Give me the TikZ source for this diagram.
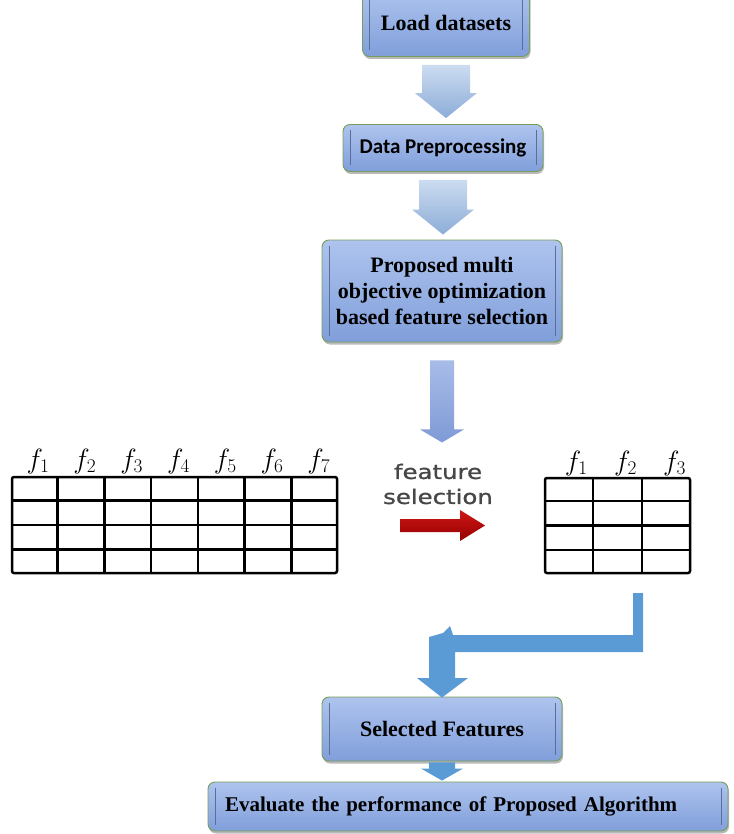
\documentclass[tikz,border=0pt]{standalone}
\usepackage{fontspec}
\setmainfont{Liberation Serif}
\newfontfamily\calibrifont{Carlito}
\newfontfamily\widesans[FakeStretch=1.22,FakeBold=1.2]{DejaVu Sans}
\usetikzlibrary{positioning, calc, shadows}
\definecolor{boxTop}{RGB}{174,196,238}
\definecolor{boxBottom}{RGB}{128,158,218}
\definecolor{boxEdge}{RGB}{118,158,88}
\definecolor{paleTop}{RGB}{204,220,240}
\definecolor{paleBottom}{RGB}{140,172,216}
\definecolor{midTop}{RGB}{168,188,232}
\definecolor{midBottom}{RGB}{126,154,214}
\definecolor{flowBlue}{RGB}{91,155,213}
\definecolor{redTop}{RGB}{206,22,22}
\definecolor{redBottom}{RGB}{150,0,0}

% block arrow pointing down: style, top point, tip point, shaft half width, head half width, head length
\newcommand{\blockdown}[6]{%
  \path[#1] let \p1=(#2), \p2=(#3) in
    (\x1-#4,\y1) -- (\x1+#4,\y1) -- (\x1+#4,\y2+#6) -- (\x1+#5,\y2+#6) -- (\x1,\y2)
    -- (\x1-#5,\y2+#6) -- (\x1-#4,\y2+#6) -- cycle;}
% feature label, a little larger than the math font allows
\newcommand{\feat}[1]{\scalebox{1.12}{$f_{#1}$}}

\tikzset{
  stepbox/.style={rectangle, rounded corners=7pt, draw=boxEdge, line width=0.9pt,
    top color=boxTop, bottom color=boxBottom, align=center, inner sep=0pt,
    drop shadow={shadow xshift=1pt, shadow yshift=-2.5pt, fill=black!50, opacity=.55},
    font=\fontsize{22}{26}\selectfont\bfseries,
    path picture={
      \draw[boxBottom!70!black, line width=0.6pt]
        ([xshift=7pt,yshift=-6pt]path picture bounding box.north west) --
        ([xshift=7pt,yshift=6pt]path picture bounding box.south west)
        ([xshift=-7pt,yshift=-6pt]path picture bounding box.north east) --
        ([xshift=-7pt,yshift=6pt]path picture bounding box.south east);}},
  palearrow/.style={top color=paleTop, bottom color=paleBottom},
  midarrow/.style={top color=midTop, bottom color=midBottom},
  flowarrow/.style={fill=flowBlue},
  datatable/.style={draw, line width=2.5pt, rounded corners=2pt, inner sep=0pt},
  gridline/.style={line width=2.5pt},
  flabel/.style={font=\fontsize{24}{24}\selectfont, inner sep=0pt}
}

\begin{document}
\begin{tikzpicture}[x=1pt, y=-1pt]
\useasboundingbox (0,0) rectangle (733,834);

% flow boxes
\node[stepbox, minimum width=167pt, minimum height=67pt] (load) at (446,23) {Load datasets};
\node[stepbox, minimum width=200pt, minimum height=47pt,
  font=\calibrifont\fontsize{21}{24}\selectfont\bfseries] (prep) at (443,148) {Data Preprocessing};
\node[stepbox, minimum width=240pt, minimum height=102pt] (prop) at (442,291)
  {Proposed multi\\ objective optimization\\ based feature selection};
\node[stepbox, minimum width=240pt, minimum height=64pt] (sel) at (442,729) {Selected Features};
\node[stepbox, minimum height=49pt, text width=486pt, inner xsep=17pt, align=left,
  font=\fontsize{21}{24}\selectfont\bfseries] (eval) at (468,806.5)
  {Evaluate the performance of Proposed Algorithm};

% arrows between the boxes
\blockdown{palearrow}{[yshift=-8pt]load.south}{[yshift=6pt]prep.north}{24}{31}{25}
\blockdown{palearrow}{[yshift=-8pt]prep.south}{[yshift=5pt]prop.north}{24}{31}{25}
\blockdown{midarrow}{[yshift=-18pt]prop.south}{[yshift=-100pt]prop.south}{12}{22}{13}
\blockdown{flowarrow}{[yshift=-1pt]sel.south}{[yshift=1pt]eval.north}{13}{21}{12}

% tables of features
\node[datatable, minimum width=325pt, minimum height=96pt] (big) at (174.5,525) {};
\foreach \i in {1,...,6}
  \draw[gridline] ($(big.north west)!\i/7!(big.north east)$) -- ($(big.south west)!\i/7!(big.south east)$);
\foreach \j in {1,2,3}
  \draw[gridline] ($(big.north west)!\j/4!(big.south west)$) -- ($(big.north east)!\j/4!(big.south east)$);
\foreach \i in {1,...,7}
  \node[flabel] (bf\i) at ($(big.north west)!{(\i-0.5)/7}!(big.north east)+(4,-14)$) {\feat{\i}};

\node[datatable, minimum width=145pt, minimum height=95pt] (small) at (617.5,525.5) {};
\foreach \i in {1,2}
  \draw[gridline] ($(small.north west)!\i/3!(small.north east)$) -- ($(small.south west)!\i/3!(small.south east)$);
\foreach \j in {1,2,3}
  \draw[gridline] ($(small.north west)!\j/4!(small.south west)$) -- ($(small.north east)!\j/4!(small.south east)$);
\foreach \i in {1,2,3}
  \node[flabel] (sf\i) at ($(small.north west)!{(\i-0.5)/3}!(small.north east)+(8,-13)$) {\feat{\i}};

\node[font=\widesans\fontsize{20}{25}\selectfont, text=black!72, align=center] (fsel) at (438,484)
  {feature\\selection};
\path[top color=redTop, bottom color=redBottom] (400,519) -- (460,519) -- (460,510) -- (485,525.5)
  -- (460,541) -- (460,532) -- (400,532) -- cycle;

% bent arrow from the reduced table down to the selected features
\fill[flowBlue] (633,593) -- (643,593) -- (643,652) -- (455,652) -- (455,678) -- (468,678)
  -- ([yshift=-1pt]sel.north) -- (417,678) -- (429,678) -- (429,637) -- (443,633) -- (450,626)
  -- (453,635) -- (633,635) -- cycle;
\end{tikzpicture}
\end{document}
